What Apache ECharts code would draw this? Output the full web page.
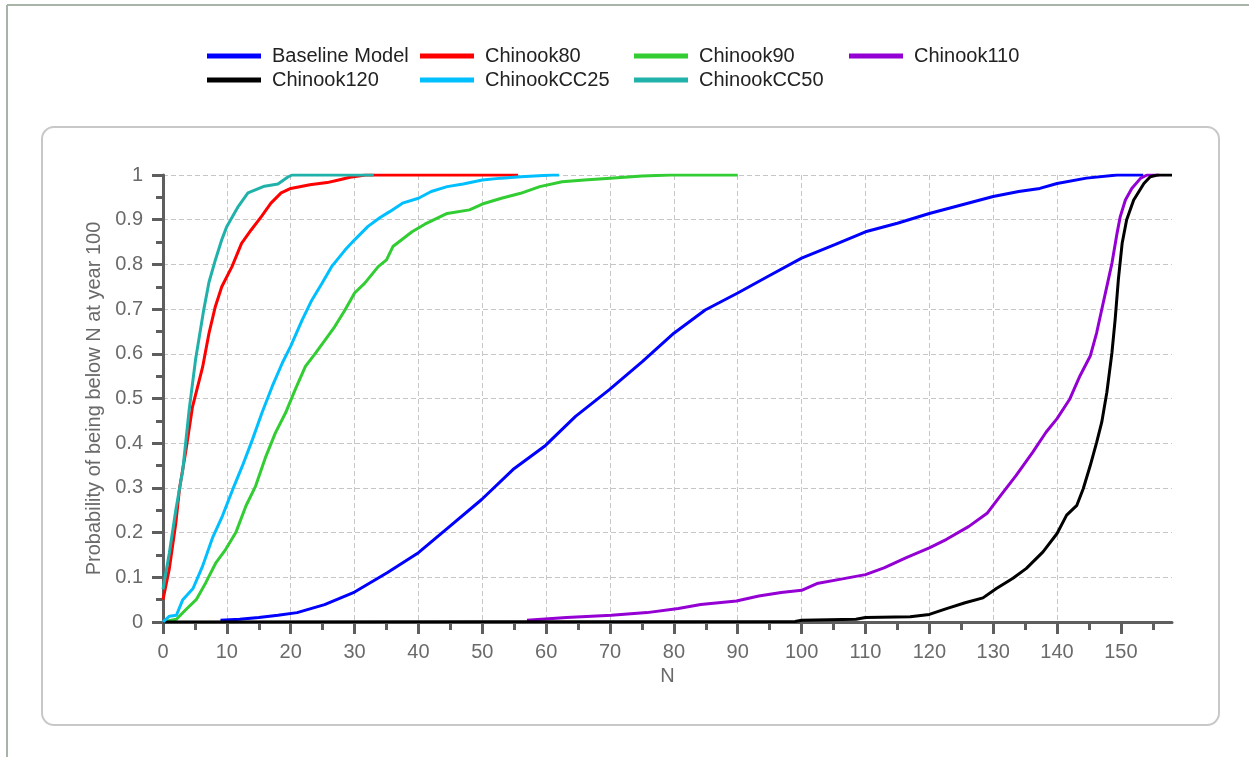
<!DOCTYPE html>
<html>
<head>
<meta charset="utf-8">
<title>Probability of being below N at year 100</title>
<script src="https://cdn.jsdelivr.net/npm/echarts@6/dist/echarts.min.js"></script>
<style>
  html, body { margin: 0; padding: 0; background: #ffffff; }
  #chart { width: 1249px; height: 757px; }
</style>
</head>
<body>
<div id="chart"></div>
<script>
// Cumulative probability curves: [N, P(N_100 < N)] for each scenario
const baselineModel = [[9,0.004],[12,0.006],[15,0.01],[18,0.015],[21,0.021],[25.3,0.039],[30,0.067],[35.1,0.11],[40,0.155],[44.9,0.214],[49.9,0.274],[54.8,0.341],[59.9,0.395],[64.6,0.46],[69.9,0.52],[75.1,0.583],[80,0.646],[84.9,0.698],[90,0.736],[94.7,0.773],[100,0.814],[105.2,0.844],[110,0.873],[115,0.892],[120,0.914],[125,0.933],[130,0.952],[134,0.963],[137.3,0.97],[140,0.981],[144.6,0.993],[149.4,1.0],[153.5,1.0]];
const chinook80 = [[0,0.05],[1,0.12],[2,0.22],[2.6,0.3],[3.6,0.385],[4.6,0.48],[6.2,0.57],[7.2,0.646],[8.2,0.706],[9.2,0.75],[10.8,0.795],[12.3,0.847],[13.8,0.877],[15.4,0.907],[16.9,0.937],[18.5,0.96],[20,0.97],[23,0.978],[25.7,0.983],[27.5,0.989],[29.3,0.995],[31.7,1.0],[55.6,1.0]];
const chinook90 = [[0,0],[2.1,0.006],[3.6,0.028],[5.2,0.05],[6.7,0.088],[8.3,0.133],[9.8,0.162],[11.4,0.2],[13,0.26],[14.5,0.304],[16.1,0.37],[17.6,0.423],[19.2,0.468],[20.7,0.52],[22.3,0.572],[23.8,0.6],[25.4,0.631],[26.9,0.661],[28.5,0.698],[30,0.736],[31.6,0.758],[33.7,0.795],[35,0.81],[36,0.84],[39,0.873],[41,0.89],[44.5,0.914],[48,0.922],[50,0.935],[53,0.948],[56,0.959],[59,0.974],[62.5,0.985],[66,0.989],[70,0.993],[75,0.998],[79.5,1.0],[90,1.0]];
const chinook110 = [[57,0.004],[63.2,0.01],[70.2,0.015],[75.8,0.021],[80.7,0.03],[84.2,0.039],[89.8,0.047],[93.3,0.058],[96.8,0.066],[100,0.071],[102.4,0.086],[106.6,0.097],[110,0.106],[112.9,0.121],[116.4,0.144],[120,0.166],[122.7,0.185],[126.2,0.214],[129.1,0.244],[131,0.28],[133.6,0.328],[136.2,0.38],[138.3,0.425],[140,0.455],[142,0.499],[143.6,0.551],[145.2,0.595],[146.2,0.647],[147,0.699],[147.8,0.751],[148.6,0.803],[149.4,0.87],[149.9,0.907],[150.7,0.944],[151.7,0.97],[153.1,0.993],[154.1,1.0],[156,1.0]];
const chinook120 = [[0,0],[99,0.001],[100,0.004],[108.5,0.006],[110,0.01],[117,0.012],[120,0.017],[122.7,0.03],[125.6,0.043],[128.4,0.054],[130.5,0.075],[133.1,0.098],[135.2,0.12],[137.8,0.157],[140,0.198],[141.5,0.239],[143.1,0.261],[144.1,0.298],[145.2,0.35],[146.2,0.402],[147,0.447],[147.8,0.514],[148.6,0.603],[149.1,0.677],[149.6,0.766],[150.2,0.848],[150.9,0.9],[152,0.944],[153.6,0.981],[154.6,0.996],[155.7,1.0],[158,1.0]];
const chinookCC25 = [[0,0],[1,0.013],[2.1,0.015],[3.1,0.05],[4.7,0.075],[6.2,0.125],[7.8,0.19],[9.3,0.237],[10.9,0.296],[12.4,0.348],[14,0.408],[15.5,0.468],[17.1,0.527],[18.7,0.58],[20,0.617],[21.8,0.676],[23.3,0.72],[24.9,0.758],[26.4,0.795],[28.5,0.832],[30,0.855],[32.1,0.885],[34,0.905],[35.5,0.918],[37.5,0.937],[40,0.948],[42,0.963],[44.5,0.974],[47,0.98],[50,0.989],[53,0.993],[56,0.996],[61,1.0],[62,1.0]];
const chinookCC50 = [[0,0.073],[1,0.155],[2,0.25],[3.1,0.34],[4.1,0.475],[5.1,0.587],[6.4,0.7],[7.2,0.76],[8.2,0.81],[9.2,0.855],[10,0.885],[11.8,0.93],[13.3,0.96],[15.9,0.975],[18,0.98],[19.5,0.995],[20.2,1.0],[33,1.0]];

const seriesNames = ['Baseline Model', 'Chinook80', 'Chinook90', 'Chinook110', 'Chinook120', 'ChinookCC25', 'ChinookCC50'];
const seriesData = [baselineModel, chinook80, chinook90, chinook110, chinook120, chinookCC25, chinookCC50];
const seriesColors = ['#0000ff', '#ff0000', '#32cd32', '#9400d3', '#000000', '#00bfff', '#20b2aa'];

// Axis ticks and labels
const xMajorTicks = [0, 10, 20, 30, 40, 50, 60, 70, 80, 90, 100, 110, 120, 130, 140, 150];
const xMinorTicks = [5, 15, 25, 35, 45, 55, 65, 75, 85, 95, 105, 115, 125, 135, 145, 155];
const xMax = 158;

const FONT = "'Liberation Sans', Arial, sans-serif";
const AXIS_COLOR = '#5e5e5e';
const LABEL_COLOR = '#6a6a6a';
const GRID_LINE = { color: '#c6c6c6', width: 1, type: [5, 3] };

// legend slots: two rows, four columns
const legendSlots = [
  [207, 46], [420, 46], [634, 46], [849, 46],
  [207, 70], [420, 70], [634, 70]
];

const chart = echarts.init(document.getElementById('chart'), null, { renderer: 'canvas' });

const option = {
  animation: false,
  backgroundColor: '#ffffff',
  textStyle: { fontFamily: FONT },
  graphic: [
    { type: 'line', z: -1, shape: { x1: 7, y1: 5, x2: 1249, y2: 5 }, style: { stroke: '#a9b4a9', lineWidth: 2 } },
    { type: 'line', z: -1, shape: { x1: 7, y1: 5, x2: 7, y2: 757 }, style: { stroke: '#a9b4a9', lineWidth: 2 } },
    { type: 'rect', z: -1, shape: { x: 42, y: 127, width: 1177, height: 598, r: 12 },
      style: { fill: 'none', stroke: '#c8c8c8', lineWidth: 2 } }
  ],
  legend: seriesNames.map((name, i) => ({
    data: [name],
    left: legendSlots[i][0],
    top: legendSlots[i][1],
    padding: 0,
    itemWidth: 54,
    itemHeight: 5,
    icon: 'rect',
    selectedMode: false,
    textStyle: { fontFamily: FONT, fontSize: 20, color: '#222222', padding: [0, 0, 0, 6] }
  })),
  grid: {
    left: 163, top: 175, right: 1249 - 1172, bottom: 757 - 622,
    outerBoundsMode: 'none'
  },
  xAxis: [
    {
      type: 'value', min: 0, max: xMax, interval: 10,
      name: 'N', nameLocation: 'middle', nameGap: 44,
      nameTextStyle: { fontFamily: FONT, fontSize: 20, color: LABEL_COLOR },
      axisLine: { show: true, onZero: false, lineStyle: { color: AXIS_COLOR, width: 3 } },
      axisTick: { show: true, customValues: xMajorTicks, length: 12, lineStyle: { color: AXIS_COLOR, width: 3 } },
      axisLabel: { customValues: xMajorTicks, margin: 20, fontFamily: FONT, fontSize: 20, color: LABEL_COLOR },
      splitLine: { show: true, showMaxLine: false, lineStyle: GRID_LINE }
    },
    {
      type: 'value', min: 0, max: xMax, gridIndex: 0, position: 'bottom',
      axisLine: { show: false },
      axisTick: { show: true, customValues: xMinorTicks, length: 8, lineStyle: { color: AXIS_COLOR, width: 3 } },
      axisLabel: { show: false },
      splitLine: { show: false }
    }
  ],
  yAxis: {
    type: 'value', min: 0, max: 1, interval: 0.1,
    name: 'Probability of being below N at year 100', nameLocation: 'middle', nameGap: 38,
    nameTextStyle: { fontFamily: FONT, fontSize: 20, color: LABEL_COLOR },
    axisLine: { show: true, onZero: false, lineStyle: { color: AXIS_COLOR, width: 3 } },
    axisTick: { show: true, length: 11, lineStyle: { color: AXIS_COLOR, width: 3 } },
    minorTick: { show: true, splitNumber: 2, length: 7, lineStyle: { color: AXIS_COLOR, width: 3 } },
    axisLabel: { margin: 20, fontFamily: FONT, fontSize: 20, color: LABEL_COLOR },
    splitLine: { show: true, lineStyle: GRID_LINE }
  },
  series: seriesNames.map((name, i) => ({
    name: name,
    type: 'line',
    xAxisIndex: 0,
    data: seriesData[i],
    showSymbol: false,
    symbol: 'none',
    clip: true,
    lineStyle: { color: seriesColors[i], width: 3 },
    itemStyle: { color: seriesColors[i] },
    emphasis: { disabled: true }
  }))
};

chart.setOption(option);
</script>
</body>
</html>
